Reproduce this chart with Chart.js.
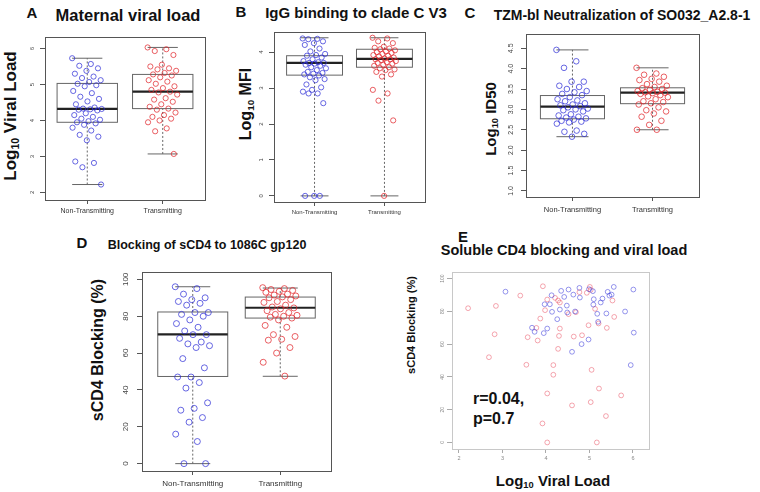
<!DOCTYPE html>
<html>
<head>
<meta charset="utf-8">
<script src="https://cdn.jsdelivr.net/npm/chart.js@4.4.1/dist/chart.umd.min.js"></script>
<style>
    body { margin: 0; background: #fff; width: 760px; height: 492px; position: relative; overflow: hidden;
           font-family: "Liberation Sans", Arial, sans-serif; }
    canvas { position: absolute; }
    .t { position: absolute; font-weight: bold; color: #111; white-space: nowrap; transform: translate(-50%, -50%); line-height: 1; }
    .v { transform: translate(-50%, -50%) rotate(-90deg); }
    sub { font-size: 62%; vertical-align: -0.3em; line-height: 0; }
</style>
</head>
<body>
<div class="t" style="left:32px;top:12px;font-size:15px">A</div>
<div class="t" style="left:128px;top:15px;font-size:16.5px">Maternal viral load</div>
<div class="t v" style="left:10px;top:116px;font-size:17px">Log<sub>10</sub> Viral Load</div>
<canvas id="chartA" width="185" height="195" style="left:25px;top:30px"></canvas>

<div class="t" style="left:241px;top:11px;font-size:15px">B</div>
<div class="t" style="left:356px;top:12px;font-size:15px">IgG binding to clade C V3</div>
<div class="t v" style="left:246px;top:104px;font-size:16px">Log<sub>10</sub> MFI</div>
<canvas id="chartB" width="178" height="200" style="left:252px;top:25px"></canvas>

<div class="t" style="left:470px;top:12px;font-size:15px">C</div>
<div class="t" style="left:622px;top:15px;font-size:14px">TZM-bl Neutralization of SO032_A2.8-1</div>
<div class="t v" style="left:490px;top:119px;font-size:15px">Log<sub>10</sub> ID50</div>
<canvas id="chartC" width="199" height="198" style="left:505px;top:27px"></canvas>

<div class="t" style="left:82px;top:242px;font-size:15px">D</div>
<div class="t" style="left:207px;top:245px;font-size:12.5px">Blocking of sCD4 to 1086C gp120</div>
<div class="t v" style="left:98px;top:350px;font-size:16px">sCD4 Blocking (%)</div>
<canvas id="chartD" width="221" height="227" style="left:115px;top:265px"></canvas>

<div class="t" style="left:463px;top:236px;font-size:15px">E</div>
<div class="t" style="left:564px;top:250px;font-size:14.5px">Soluble CD4 blocking and viral load</div>
<div class="t v" style="left:411px;top:325px;font-size:11px">sCD4 Blocking (%)</div>
<div class="t" style="left:553px;top:480px;font-size:15px">Log<sub>10</sub> Viral Load</div>
<div class="t" style="left:473px;top:409px;font-size:16px;transform:translate(0,-50%);line-height:1.25">r=0.04,<br>p=0.7</div>
<canvas id="chartE" width="221" height="200" style="left:433px;top:265px"></canvas>

<script>
// 分组
const groups = ["Non-Transmitting", "Transmitting"];

// A: 母体病毒载量
const viralNT = [5.73, 5.57, 5.52, 5.45, 5.38, 5.3, 5.22, 5.18, 5.12, 5.07, 5.02, 4.98, 4.95, 4.82, 4.76, 4.66,
    4.6, 4.53, 4.45, 4.36, 4.33, 4.32, 4.31, 4.3, 4.28, 4.2, 4.15, 4.1, 4.05, 4.02, 3.98, 3.95, 3.92, 3.88,
    3.8, 3.72, 3.6, 3.55, 3.45, 2.86, 2.82, 2.7, 2.22];
const viralT = [6.03, 5.98, 5.93, 5.82, 5.55, 5.5, 5.45, 5.42, 5.38, 5.32, 5.28, 5.25, 5.2, 5.12, 5.08, 5.02,
    4.95, 4.9, 4.85, 4.8, 4.78, 4.72, 4.62, 4.58, 4.52, 4.45, 4.38, 4.33, 4.3, 4.22, 4.15, 4.1, 4.05, 4.0,
    3.95, 3.78, 3.7, 3.07];
const viralStats = [[2.22, 3.95, 4.32, 5.03, 5.73], [3.07, 4.33, 4.8, 5.28, 6.03]];
const viralTicks = [2, 3, 4, 5, 6];

// B: IgG 结合
const mfiNT = [4.38, 4.37, 4.36, 4.3, 4.25, 4.2, 4.1, 4.02, 3.95, 3.92, 3.9, 3.85, 3.8, 3.75, 3.72, 3.7, 3.7,
    3.68, 3.65, 3.62, 3.58, 3.55, 3.5, 3.45, 3.42, 3.4, 3.38, 3.35, 3.3, 3.25, 3.22, 3.1, 3.02, 2.95, 2.9,
    2.85, 2.85, 2.58, 0, 0, 0];
const mfiT = [4.4, 4.38, 4.3, 4.25, 4.15, 4.12, 4.1, 4.08, 4.05, 4.02, 4.0, 3.98, 3.95, 3.92, 3.9, 3.88, 3.85,
    3.82, 3.8, 3.8, 3.78, 3.75, 3.72, 3.7, 3.68, 3.65, 3.62, 3.58, 3.55, 3.52, 3.5, 3.45, 3.38, 3.32, 2.95,
    2.85, 2.65, 2.1, 0];
const mfiStats = [[0, 3.36, 3.7, 3.9, 4.4], [0, 3.58, 3.81, 4.08, 4.4]];
const mfiTicks = [0, 1, 2, 3, 4];

// C: 中和 ID50
const id50NT = [4.46, 4.18, 4.02, 3.68, 3.68, 3.58, 3.55, 3.5, 3.45, 3.42, 3.38, 3.35, 3.3, 3.25, 3.22, 3.2,
    3.15, 3.12, 3.1, 3.08, 3.05, 3.02, 3.0, 2.98, 2.95, 2.88, 2.85, 2.82, 2.8, 2.78, 2.75, 2.72, 2.7, 2.68,
    2.65, 2.48, 2.45, 2.4, 2.33];
const id50T = [4.02, 3.88, 3.85, 3.8, 3.75, 3.72, 3.68, 3.62, 3.58, 3.55, 3.52, 3.5, 3.48, 3.45, 3.43, 3.42,
    3.41, 3.4, 3.38, 3.35, 3.32, 3.3, 3.25, 3.2, 3.18, 3.15, 3.12, 3.05, 2.98, 2.95, 2.9, 2.82, 2.72, 2.62,
    2.5, 2.5];
const id50Stats = [[2.33, 2.77, 3.07, 3.34, 4.46], [2.5, 3.14, 3.41, 3.53, 4.02]];
const id50Ticks = [1.0, 1.5, 2.0, 2.5, 3.0, 3.5, 4.0, 4.5];

// D: sCD4 阻断
const blockNT = [96, 95, 92, 90, 89, 88, 87, 86, 82, 82, 81, 80, 78, 76, 74, 72, 70, 70, 68, 66, 65, 64, 63,
    57, 52, 47, 47, 44, 41, 33, 30, 29, 25, 22.5, 16, 12, 0, 0];
const blockT = [95.5, 95, 94.5, 94, 93.5, 93, 92, 91.5, 91, 90.5, 90, 89, 88, 87.5, 86, 85, 84.5, 84, 83, 82,
    81, 80.5, 80, 79.5, 79, 78, 75, 74, 70, 69, 67.5, 67, 63, 60, 55, 47.5];
const blockStats = [[0, 47.3, 70.2, 82.3, 96], [47.4, 79, 84.6, 90.4, 95.3]];
const blockTicks = [0, 20, 40, 60, 80, 100];

// E: 病毒载量 vs 阻断
const eBlueX = [3.07, 3.68, 3.74, 3.95, 4.03, 3.97, 4.09, 4.13, 4.14, 4.26, 4.32, 4.35, 4.42, 4.48, 4.49, 4.52,
    4.60, 4.63, 4.67, 4.77, 4.78, 4.82, 4.98, 4.99, 5.08, 5.10, 5.09, 5.18, 5.20, 5.26, 5.30, 5.39, 5.42, 5.46,
    5.51, 5.56, 5.82, 5.95, 6.01, 6.02];
const eBlueY = [92, 70, 67.5, 66.7, 69.5, 84.3, 84.3, 89.8, 79.7, 75.2, 81.1, 92.5, 88.8, 83.5, 79.3, 93.3,
    55.3, 90.2, 79.9, 94.3, 88.4, 60, 62.8, 93.5, 92.3, 87.4, 84.1, 78.5, 73.6, 85.4, 87.8, 78.7, 91.9, 89.6,
    90.2, 94.9, 79.9, 47.2, 93.3, 67];
const eRedX = [2.21, 2.85, 2.82, 2.69, 3.41, 3.55, 3.58, 3.78, 3.81, 3.87, 3.93, 3.92, 3.98, 4.03, 4.03, 4.03,
    4.17, 4.17, 4.21, 4.28, 4.32, 4.28, 4.30, 4.32, 4.52, 4.60, 4.64, 4.69, 4.77, 4.83, 4.94, 4.98, 5.01, 5.03,
    5.03, 5.05, 5.13, 5.17, 5.21, 5.22, 5.38, 5.40, 5.53, 5.57, 5.73];
const eRedY = [81.9, 83.3, 66, 52, 89.6, 47.4, 64.2, 69.9, 62.2, 75.6, 95.3, 11.6, 80.7, 87.2, 29.9, 0,
    47.2, 41.3, 88.2, 86.6, 85.4, 57.1, 65, 69.5, 78.3, 22.6, 64.6, 79.5, 91.7, 65.4, 91.3, 71.5, 94.9, 93.1,
    24.6, 44.3, 81.5, 0, 72.6, 32.9, 16.1, 69.9, 86.6, 76.6, 28.7];
const vlTicks = [2, 3, 4, 5, 6];

const BLUE = "rgba(45, 45, 215, 0.8)";
const RED = "rgba(225, 35, 40, 0.8)";
const FONT = "'Liberation Sans', Arial, sans-serif";

// 抖动（只用于横向散开点）
function jitter(i, amp) {
    return (((i * 0.618034) % 1) - 0.5) * 2 * amp;
}

// 箱线图插件
const boxPlugin = {
    id: "boxes",
    beforeDatasetsDraw(chart, args, opts) {
        if (!opts.stats) return;
        const ctx = chart.ctx;
        const xs = chart.scales.x, ys = chart.scales.y;
        opts.stats.forEach((s, i) => {
            const c = i + 1;
            const x0 = xs.getPixelForValue(c - 0.4), x1 = xs.getPixelForValue(c + 0.4);
            const cx = xs.getPixelForValue(c);
            const c0 = xs.getPixelForValue(c - 0.2), c1 = xs.getPixelForValue(c + 0.2);
            const [lo, q1, med, q3, hi] = s.map(v => ys.getPixelForValue(v));
            ctx.save();
            ctx.strokeStyle = "#666";
            ctx.lineWidth = 1;
            ctx.setLineDash([2, 2]);
            ctx.beginPath();
            ctx.moveTo(cx, lo); ctx.lineTo(cx, q1);
            ctx.moveTo(cx, q3); ctx.lineTo(cx, hi);
            ctx.stroke();
            ctx.setLineDash([]);
            ctx.beginPath();
            ctx.moveTo(c0, lo); ctx.lineTo(c1, lo);
            ctx.moveTo(c0, hi); ctx.lineTo(c1, hi);
            ctx.stroke();
            ctx.strokeRect(x0, q3, x1 - x0, q1 - q3);
            ctx.strokeStyle = "#222";
            ctx.lineWidth = 2.2;
            ctx.beginPath();
            ctx.moveTo(x0, med); ctx.lineTo(x1, med);
            ctx.stroke();
            ctx.restore();
        });
    }
};

// 边框 + 竖排 y 轴刻度文字
const framePlugin = {
    id: "frame",
    afterDraw(chart, args, opts) {
        const ctx = chart.ctx;
        const a = chart.chartArea;
        const ys = chart.scales.y;
        ctx.save();
        ctx.strokeStyle = opts.color || "#555";
        ctx.lineWidth = 1;
        ctx.strokeRect(Math.round(a.left) + 0.5, Math.round(a.top) + 0.5,
            Math.round(a.right - a.left), Math.round(a.bottom - a.top));
        ctx.fillStyle = opts.labelColor || "#444";
        ctx.font = (opts.size || 7) + "px " + FONT;
        ctx.textAlign = "center";
        ctx.textBaseline = "middle";
        ys.ticks.forEach(t => {
            const y = ys.getPixelForValue(t.value);
            ctx.save();
            ctx.translate(a.left - opts.offset, y);
            ctx.rotate(-Math.PI / 2);
            ctx.fillText(opts.fmt ? opts.fmt(t.value) : String(t.value), 0, 0);
            ctx.restore();
        });
        ctx.restore();
    }
};

Chart.register(boxPlugin, framePlugin);

function pts(values, g, amp) {
    return values.map((v, i) => ({ x: g + jitter(i, amp), y: v }));
}

function pairs(xs, ys) {
    return xs.map((x, i) => ({ x: x, y: ys[i] }));
}

function makeChart(id, cfg) {
    const ctx = document.getElementById(id).getContext("2d");
    const isBox = !!cfg.stats;
    return new Chart(ctx, {
        type: "scatter",
        data: {
            datasets: cfg.sets.map(s => ({
                data: s.data,
                pointStyle: "circle",
                pointRadius: cfg.radius,
                pointBorderWidth: 0.9,
                pointBackgroundColor: "transparent",
                pointBorderColor: s.color,
                showLine: false
            }))
        },
        options: {
            responsive: false,
            animation: false,
            events: [],
            devicePixelRatio: 1,
            layout: { padding: { top: 7, right: 5, left: 0, bottom: 0 } },
            plugins: {
                legend: { display: false },
                tooltip: { enabled: false },
                boxes: { stats: cfg.stats },
                frame: {
                    offset: cfg.yOffset,
                    size: cfg.ySize,
                    color: cfg.frameColor,
                    labelColor: cfg.tickColor,
                    fmt: cfg.yFmt
                }
            },
            scales: {
                x: {
                    type: "linear",
                    min: cfg.xMin,
                    max: cfg.xMax,
                    afterBuildTicks: s => { s.ticks = cfg.xTicks.map(v => ({ value: v })); },
                    afterFit: s => { s.height = cfg.xH; },
                    border: { display: false },
                    grid: { drawOnChartArea: false, drawTicks: true, tickLength: 4, color: cfg.tickMark || "#555" },
                    ticks: {
                        autoSkip: false,
                        maxRotation: 0,
                        padding: cfg.xPad,
                        color: cfg.tickColor || "#333",
                        font: { family: FONT, size: cfg.xSize },
                        callback: v => isBox ? groups[v - 1] : String(v)
                    }
                },
                y: {
                    type: "linear",
                    min: cfg.yMin,
                    max: cfg.yMax,
                    afterBuildTicks: s => { s.ticks = cfg.yTicks.map(v => ({ value: v })); },
                    afterFit: s => { s.width = cfg.yW; },
                    border: { display: false },
                    grid: { drawOnChartArea: false, drawTicks: true, tickLength: 5, color: cfg.tickMark || "#555" },
                    ticks: { display: false }
                }
            }
        }
    });
}

const boxX = { xMin: 0.44, xMax: 2.56, xTicks: [1, 2] };

makeChart("chartA", Object.assign({}, boxX, {
    sets: [{ data: pts(viralNT, 1, 0.2), color: BLUE }, { data: pts(viralT, 2, 0.2), color: RED }],
    stats: viralStats, radius: 2.6,
    yMin: 1.79, yMax: 6.32, yTicks: viralTicks, yW: 20, xH: 25,
    yOffset: 13, ySize: 6, xSize: 7, xPad: 3
}));

makeChart("chartB", Object.assign({}, boxX, {
    xMin: 0.42, xMax: 2.58,
    sets: [{ data: pts(mfiNT, 1, 0.17), color: BLUE }, { data: pts(mfiT, 2, 0.17), color: RED }],
    stats: mfiStats, radius: 2.6,
    yMin: -0.17, yMax: 4.56, yTicks: mfiTicks, yW: 22, xH: 23,
    yOffset: 13, ySize: 6, xSize: 6, xPad: 3
}));

makeChart("chartC", Object.assign({}, boxX, {
    xMin: 0.42, xMax: 2.58,
    sets: [{ data: pts(id50NT, 1, 0.2), color: BLUE }, { data: pts(id50T, 2, 0.2), color: RED }],
    stats: id50Stats, radius: 2.8,
    yMin: 0.85, yMax: 4.85, yTicks: id50Ticks, yW: 21, xH: 28,
    yOffset: 15, ySize: 7, xSize: 7.5, xPad: 4,
    yFmt: v => v.toFixed(1)
}));

makeChart("chartD", Object.assign({}, boxX, {
    xMin: 0.42, xMax: 2.58,
    sets: [{ data: pts(blockNT, 1, 0.2), color: BLUE }, { data: pts(blockT, 2, 0.2), color: RED }],
    stats: blockStats, radius: 3,
    yMin: -4, yMax: 104, yTicks: blockTicks, yW: 27, xH: 21,
    yOffset: 16, ySize: 8, xSize: 8, xPad: 4
}));

makeChart("chartE", {
    sets: [{ data: pairs(eBlueX, eBlueY), color: "rgba(60, 60, 220, 0.6)" },
           { data: pairs(eRedX, eRedY), color: "rgba(230, 60, 80, 0.5)" }],
    stats: null, radius: 2.4,
    xMin: 1.84, xMax: 6.37, xTicks: vlTicks,
    yMin: -4, yMax: 104, yTicks: blockTicks, yW: 19, xH: 16,
    yOffset: 9, ySize: 5, xSize: 5.5, xPad: 2,
    frameColor: "#c8c8c8", tickColor: "#888", tickMark: "#aaa"
});
</script>
</body>
</html>
